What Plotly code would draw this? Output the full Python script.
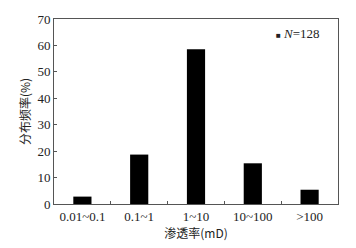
import plotly.graph_objects as go

categories = ["0.01~0.1", "0.1~1", "1~10", "10~100", ">100"]
frequency = [2.8, 18.7, 58.6, 15.4, 5.4]
legend_label = "<i>N</i>=128"
y_ticks = [0, 10, 20, 30, 40, 50, 60, 70]

font_family = "Liberation Serif, Times New Roman, Noto Sans CJK SC, serif"

fig = go.Figure()
fig.add_trace(go.Bar(
    x=categories, y=frequency,
    marker=dict(color="black", line=dict(width=0)),
    width=0.32, showlegend=False,
))

axis_common = dict(
    showline=True, linecolor="#555", linewidth=1, mirror=True,
    ticks="inside", ticklen=3, tickcolor="#555", tickwidth=1,
    showgrid=False, zeroline=False,
    tickfont=dict(family=font_family, size=13, color="#222"),
)

fig.add_annotation(
    xref="paper", yref="paper", x=0.775, y=0.92, xanchor="left", yanchor="middle",
    text="<span style='font-size:8px'>■</span> " + legend_label,
    showarrow=False, font=dict(family=font_family, size=13, color="#222"),
)

fig.update_layout(
    width=356, height=248,
    margin=dict(l=54, r=18, t=17, b=41),
    paper_bgcolor="white", plot_bgcolor="white",
    font=dict(family=font_family, size=13, color="#222"),
    showlegend=False,
    xaxis=dict(**axis_common, tickson="boundaries",
               title=dict(text="渗透率(mD)", standoff=4,
                          font=dict(family="Noto Sans CJK SC, Liberation Serif", size=12))),
    yaxis=dict(**axis_common, range=[0, 70], tickvals=y_ticks,
               title=dict(text="分布频率(%)", standoff=4,
                          font=dict(family="Noto Sans CJK SC, Liberation Serif", size=12))),
    bargap=0.68,
)

fig.write_html("out.html")
